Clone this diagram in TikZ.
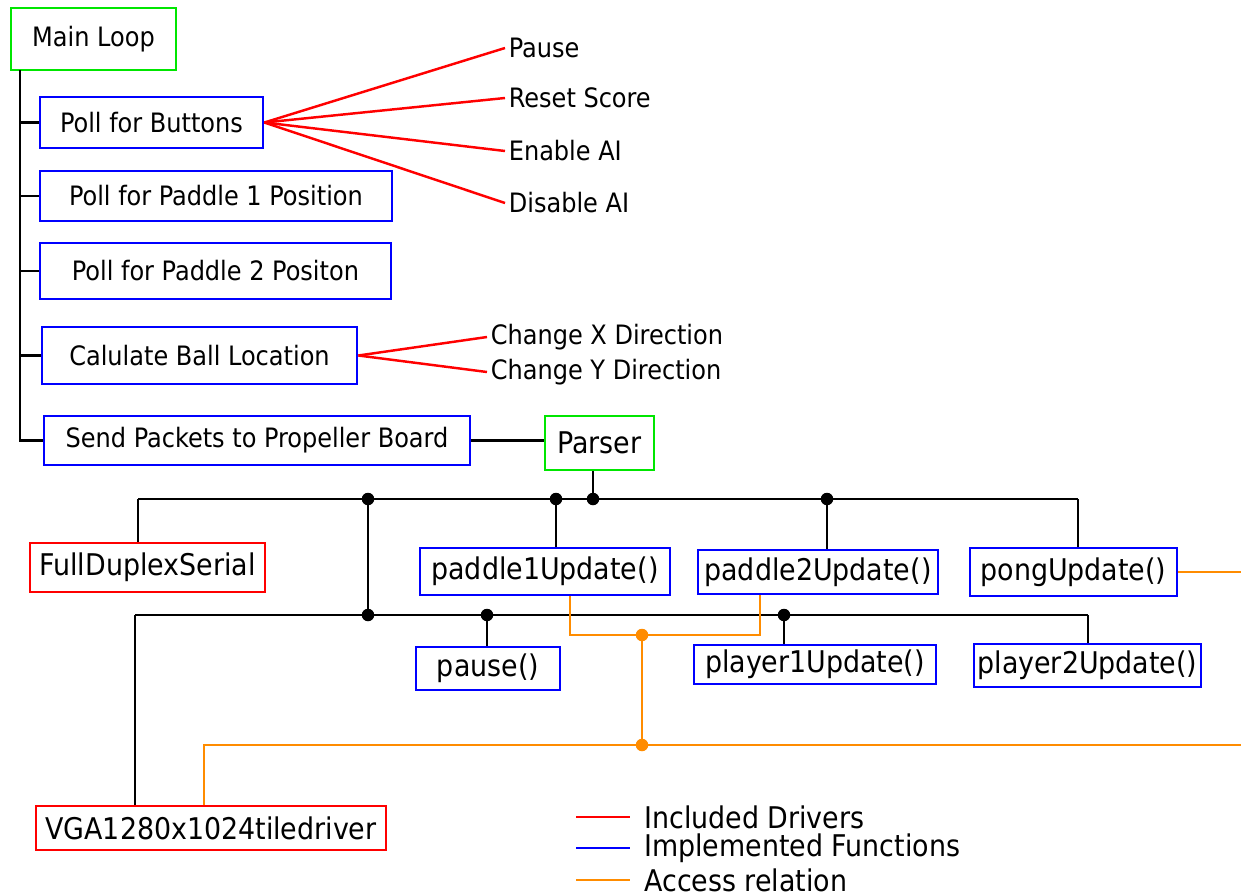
\documentclass[tikz,border=0pt]{standalone}
\usepackage{fontspec}
\setmainfont{DejaVu Sans Condensed}
\usepackage{tikz}

\definecolor{boxgreen}{RGB}{0,230,0}
\definecolor{boxblue}{RGB}{0,0,255}
\definecolor{boxred}{RGB}{255,0,0}
\definecolor{accorange}{RGB}{255,140,0}

\begin{document}
\begin{tikzpicture}[x=0.02cm,y=-0.02cm,
    topfont/.style={font=\fontsize{15.2}{17}\selectfont},
    lowfont/.style={font=\fontsize{17}{20}\selectfont},
    box/.style={draw,line width=1.6pt,fill=white,inner sep=2pt},
    mainbox/.style={box,draw=boxgreen,topfont},
    parsebox/.style={box,draw=boxgreen,lowfont},
    funbox/.style={box,draw=boxblue,topfont},
    implbox/.style={box,draw=boxblue,lowfont},
    drvbox/.style={box,draw=boxred,lowfont},
    leaf/.style={topfont,anchor=west,inner sep=2pt},
    tree/.style={line width=1.6pt,black},
    fan/.style={line width=1.4pt,boxred},
    acc/.style={line width=1.4pt,accorange},
    dot/.style={circle,fill=black,inner sep=0pt,minimum size=2.5mm},
    odot/.style={circle,fill=accorange,inner sep=0pt,minimum size=2.5mm}]
    \useasboundingbox (0,0) rectangle (1241,896);

    \node[mainbox,minimum width=3.3cm,minimum height=1.24cm] (main) at (93.5,39) {Main Loop};
    \node[funbox,minimum width=4.46cm,minimum height=1.02cm] (pbtn) at (151.5,122.5) {Poll for Buttons};
    \node[funbox,minimum width=7.04cm,minimum height=1.0cm] (pp1) at (216,196) {Poll for Paddle 1 Position};
    \node[funbox,minimum width=7.02cm,minimum height=1.12cm] (pp2) at (215.5,271) {Poll for Paddle 2 Positon};
    \node[funbox,minimum width=6.3cm,minimum height=1.14cm] (ball) at (199.5,355.5) {Calulate Ball Location};
    \node[funbox,minimum width=8.52cm,minimum height=0.98cm] (send) at (257,440.5) {Send Packets to Propeller Board};
    \node[parsebox,minimum width=2.18cm,minimum height=1.08cm] (parser) at (599.5,443) {Parser};

    \node[leaf] (pause) at (505,48) {Pause};
    \node[leaf] (reset) at (505,98) {Reset Score};
    \node[leaf] (enable) at (505,151) {Enable AI};
    \node[leaf] (disable) at (505,203) {Disable AI};
    \node[leaf] (chx) at (487,337) {Change X Direction};
    \node[leaf] (chy) at (487,372) {Change Y Direction};

    \coordinate (trunk) at (20,70);
    \draw[tree] (trunk) |- (send.west);
    \foreach \n in {pbtn,pp1,pp2,ball}
        \draw[tree] (trunk |- \n.west) -- (\n.west);
    \draw[tree] (send.east) -- (send.east -| parser.west);

    \foreach \n in {pause,reset,enable,disable}
        \draw[fan] (pbtn.east) -- (\n.west);
    \foreach \n in {chx,chy}
        \draw[fan] (ball.east) -- (\n.west);

    \node[drvbox,minimum width=4.7cm,minimum height=0.98cm] (fds) at (147.5,567.5) {FullDuplexSerial};
    \node[implbox,minimum width=5.0cm,minimum height=0.94cm] (p1) at (545,571.5) {paddle1Update()};
    \node[implbox,minimum width=4.8cm,minimum height=0.88cm] (p2) at (818,572) {paddle2Update()};
    \node[implbox,minimum width=4.14cm,minimum height=0.96cm] (pong) at (1073.5,572) {pongUpdate()};
    \node[implbox,minimum width=2.88cm,minimum height=0.86cm] (pse) at (488,668.5) {pause()};
    \node[implbox,minimum width=4.84cm,minimum height=0.78cm] (pl1) at (815,664.5) {player1Update()};
    \node[implbox,minimum width=4.5cm,minimum height=0.86cm] (pl2) at (1087.5,665.5) {player2Update()};
    \node[drvbox,minimum width=7.0cm,minimum height=0.88cm] (vga) at (211,828) {VGA1280x1024tiledriver};

    \coordinate (b1w) at (138,499);
    \coordinate (b1e) at (1078,499);
    \coordinate (j1) at (368,499);
    \coordinate (j2) at (556,499);
    \coordinate (j3) at (593,499);
    \coordinate (j4) at (827,499);
    \coordinate (b2w) at (135,615);
    \coordinate (b2e) at (1088,615);
    \coordinate (j5) at (368,615);
    \coordinate (j6) at (487,615);
    \coordinate (j7) at (784,615);

    \draw[tree] (b1w) -- (b1e);
    \draw[tree] (parser.south -| j3) -- (j3);
    \draw[tree] (b1w) -- (b1w |- fds.north);
    \draw[tree] (j2) -- (j2 |- p1.north);
    \draw[tree] (j4) -- (j4 |- p2.north);
    \draw[tree] (b1e) -- (b1e |- pong.north);
    \draw[tree] (j1) -- (j5);
    \draw[tree] (b2w) -- (b2e);
    \draw[tree] (b2w) -- (b2w |- vga.north);
    \draw[tree] (j6) -- (j6 |- pse.north);
    \draw[tree] (j7) -- (j7 |- pl1.north);
    \draw[tree] (b2e) -- (b2e |- pl2.north);
    \foreach \j in {j1,j2,j3,j4,j5,j6,j7}
        \node[dot] at (\j) {};

    \coordinate (o1) at (570,635);
    \coordinate (o2) at (760,635);
    \coordinate (oj) at (642,635);
    \coordinate (ok) at (642,745);
    \coordinate (ov) at (204,745);
    \coordinate (oe) at (1241,745);
    \draw[acc] (p1.south -| o1) -- (o1) -- (o2) -- (p2.south -| o2);
    \draw[acc] (oj) -- (ok);
    \draw[acc] (vga.north -| ov) -- (ov) -- (oe);
    \draw[acc] (pong.east) -- (pong.east -| oe);
    \node[odot] at (oj) {};
    \node[odot] at (ok) {};

    \node[lowfont,anchor=west,inner sep=0pt] (leg1) at (644,817) {Included Drivers};
    \node[lowfont,anchor=west,inner sep=0pt] (leg2) at (644,848) {Implemented Functions};
    \node[lowfont,anchor=west,inner sep=0pt] (leg3) at (644,880) {Access relation};
    \draw[line width=1.6pt,boxred] ([xshift=-1.36cm]leg1.west) -- ([xshift=-0.28cm]leg1.west);
    \draw[line width=1.6pt,boxblue] ([xshift=-1.36cm]leg2.west) -- ([xshift=-0.28cm]leg2.west);
    \draw[line width=1.6pt,accorange] ([xshift=-1.36cm]leg3.west) -- ([xshift=-0.28cm]leg3.west);
\end{tikzpicture}
\end{document}
